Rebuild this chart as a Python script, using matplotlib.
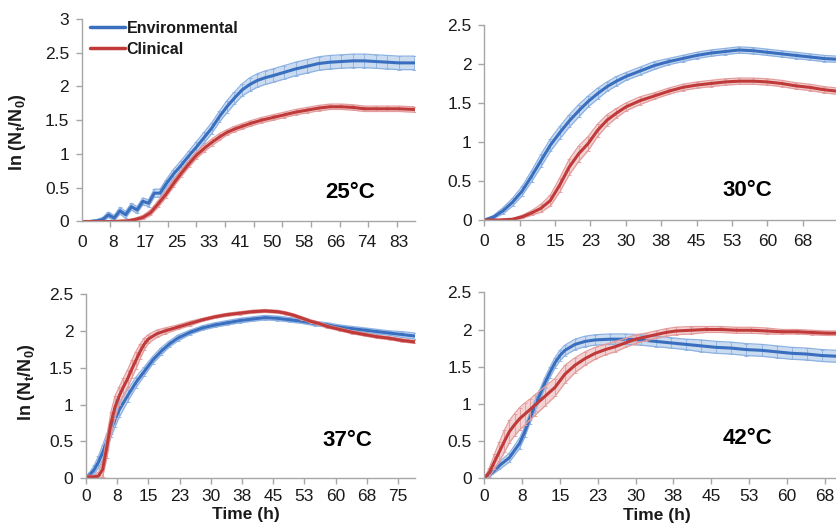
import numpy as np
import matplotlib
matplotlib.use("Agg")
import matplotlib.pyplot as plt

plt.rcParams['font.family'] = ['Liberation Sans', 'DejaVu Sans']
plt.rcParams['mathtext.fontset'] = 'custom'
plt.rcParams['mathtext.rm'] = 'Liberation Sans'
plt.rcParams['mathtext.bf'] = 'Liberation Sans:bold'

# ---- data: time (h), ln(Nt/N0), error ----
env25_t = [0, 2, 4, 5.5, 7, 8.5, 10, 11.5, 13, 14.5, 16, 17.5, 19, 20.5, 22, 24, 26, 28, 30, 32,
           34, 36, 38, 40, 42, 44, 46, 48, 50, 53, 56, 59, 62, 65, 68, 71, 74, 77, 80, 83, 87]
env25_v = [0, 0, 0.01, 0.03, 0.1, 0.05, 0.16, 0.1, 0.22, 0.17, 0.3, 0.27, 0.42, 0.42, 0.55, 0.7, 0.83, 0.97, 1.1, 1.24,
           1.38, 1.55, 1.7, 1.83, 1.95, 2.03, 2.09, 2.13, 2.16, 2.21, 2.26, 2.3, 2.34, 2.36, 2.37, 2.38, 2.38, 2.37, 2.36, 2.35, 2.35]
env25_e = [0.01, 0.01, 0.02, 0.03, 0.04, 0.04, 0.05, 0.05, 0.05, 0.05, 0.05, 0.05, 0.06, 0.06, 0.06, 0.07, 0.07, 0.07, 0.08, 0.08,
           0.08, 0.08, 0.09, 0.09, 0.09, 0.1, 0.1, 0.1, 0.1, 0.1, 0.1, 0.1, 0.1, 0.1, 0.1, 0.1, 0.1, 0.1, 0.1, 0.1, 0.1]

cli25_t = [0, 4, 8, 12, 14, 16, 18, 20, 22, 24, 26, 28, 30, 32, 34, 36, 38, 40, 42, 44,
           47, 50, 53, 56, 59, 62, 65, 68, 71, 74, 77, 80, 83, 87]
cli25_v = [0, 0, 0, 0.01, 0.03, 0.06, 0.13, 0.26, 0.4, 0.56, 0.71, 0.85, 0.98, 1.08, 1.17, 1.25, 1.32, 1.37, 1.41, 1.45,
           1.5, 1.54, 1.58, 1.62, 1.65, 1.68, 1.7, 1.7, 1.69, 1.67, 1.67, 1.67, 1.67, 1.66]
cli25_e = [0, 0, 0.01, 0.01, 0.02, 0.03, 0.04, 0.05, 0.05, 0.05, 0.05, 0.05, 0.05, 0.05, 0.05, 0.05, 0.04, 0.04, 0.04, 0.04,
           0.04, 0.04, 0.04, 0.04, 0.04, 0.04, 0.04, 0.04, 0.04, 0.04, 0.04, 0.04, 0.04, 0.04]

env30_t = [0, 2, 4, 6, 8, 10, 12, 14, 16, 18, 20, 22, 24, 26, 28, 30, 33, 36, 39, 42,
           45, 48, 51, 54, 57, 60, 63, 66, 69, 72, 75]
env30_v = [0, 0.04, 0.12, 0.23, 0.37, 0.56, 0.76, 0.96, 1.12, 1.27, 1.4, 1.52, 1.62, 1.71, 1.78, 1.84, 1.91, 1.98, 2.03, 2.07,
           2.11, 2.14, 2.16, 2.18, 2.17, 2.15, 2.13, 2.11, 2.09, 2.07, 2.06]
env30_e = [0, 0.02, 0.04, 0.05, 0.06, 0.07, 0.08, 0.08, 0.08, 0.08, 0.08, 0.07, 0.07, 0.06, 0.06, 0.05, 0.05, 0.05, 0.04, 0.04,
           0.04, 0.04, 0.04, 0.04, 0.04, 0.04, 0.04, 0.04, 0.04, 0.04, 0.04]

cli30_t = [0, 3, 6, 8, 10, 12, 14, 16, 18, 20, 22, 24, 26, 28, 30, 33, 36, 39, 42, 45,
           48, 51, 54, 57, 60, 63, 66, 69, 72, 75]
cli30_v = [0, 0, 0.01, 0.04, 0.09, 0.15, 0.25, 0.45, 0.68, 0.85, 0.98, 1.15, 1.28, 1.37, 1.45, 1.53, 1.59, 1.65, 1.7, 1.73,
           1.75, 1.77, 1.78, 1.78, 1.77, 1.75, 1.72, 1.7, 1.67, 1.65]
cli30_e = [0, 0, 0.01, 0.02, 0.03, 0.05, 0.07, 0.09, 0.1, 0.1, 0.09, 0.08, 0.07, 0.06, 0.05, 0.05, 0.04, 0.04, 0.04, 0.04,
           0.04, 0.04, 0.04, 0.04, 0.04, 0.04, 0.04, 0.04, 0.04, 0.04]

env37_t = [0, 1, 2, 3, 4, 5, 6, 7, 8, 10, 12, 14, 16, 18, 20, 22, 25, 28, 31, 34,
           37, 40, 43, 46, 49, 52, 55, 58, 61, 64, 67, 70, 73, 76, 79]
env37_v = [0.01, 0.05, 0.12, 0.22, 0.35, 0.5, 0.66, 0.8, 0.93, 1.12, 1.3, 1.45, 1.6, 1.72, 1.82, 1.9, 1.98, 2.04, 2.08, 2.11,
           2.14, 2.16, 2.18, 2.17, 2.15, 2.13, 2.1, 2.08, 2.05, 2.03, 2.01, 1.99, 1.97, 1.95, 1.93]
env37_e = [0.02, 0.04, 0.06, 0.08, 0.1, 0.1, 0.1, 0.1, 0.1, 0.08, 0.07, 0.06, 0.05, 0.05, 0.04, 0.04, 0.03, 0.03, 0.03, 0.03,
           0.03, 0.03, 0.03, 0.03, 0.03, 0.03, 0.03, 0.03, 0.03, 0.03, 0.03, 0.03, 0.03, 0.04, 0.04]

cli37_t = [0, 1, 2, 3, 4, 5, 6, 7, 8, 9, 10, 11, 12, 13, 14, 15, 17, 19, 22, 25,
           28, 31, 34, 37, 40, 43, 46, 48, 50, 52, 54, 56, 58, 61, 64, 67, 70, 73, 76, 79]
cli37_v = [0.02, 0.02, 0.02, 0.03, 0.12, 0.42, 0.75, 0.97, 1.12, 1.24, 1.35, 1.48, 1.6, 1.72, 1.82, 1.89, 1.96, 2.0, 2.05, 2.1,
           2.15, 2.19, 2.22, 2.24, 2.26, 2.27, 2.26, 2.24, 2.21, 2.17, 2.13, 2.1, 2.06, 2.02, 1.98, 1.95, 1.92, 1.9, 1.87, 1.85]
cli37_e = [0.02, 0.02, 0.02, 0.05, 0.1, 0.15, 0.15, 0.15, 0.12, 0.12, 0.12, 0.12, 0.12, 0.1, 0.08, 0.06, 0.05, 0.04, 0.03, 0.03,
           0.02, 0.02, 0.02, 0.02, 0.02, 0.02, 0.02, 0.02, 0.02, 0.02, 0.02, 0.02, 0.02, 0.02, 0.02, 0.02, 0.02, 0.02, 0.02, 0.02]

env42_t = [0, 1, 3, 5, 7, 8, 9, 10, 11, 12, 13, 14, 15, 16, 18, 20, 22, 25, 28, 31,
           34, 37, 40, 43, 46, 49, 52, 55, 58, 61, 64, 67, 70]
env42_v = [0, 0.04, 0.17, 0.28, 0.47, 0.62, 0.8, 0.97, 1.12, 1.28, 1.42, 1.55, 1.65, 1.72, 1.8, 1.84, 1.86, 1.87, 1.87, 1.86,
           1.84, 1.82, 1.8, 1.78, 1.76, 1.75, 1.73, 1.72, 1.7, 1.68, 1.67, 1.65, 1.64]
env42_e = [0, 0.02, 0.05, 0.06, 0.07, 0.07, 0.07, 0.07, 0.07, 0.07, 0.07, 0.07, 0.07, 0.07, 0.07, 0.07, 0.07, 0.07, 0.07, 0.07,
           0.07, 0.07, 0.07, 0.08, 0.08, 0.08, 0.08, 0.08, 0.08, 0.08, 0.08, 0.08, 0.08]

cli42_t = [0, 1, 2, 3, 4, 5, 6, 7, 8, 9, 10, 12, 14, 16, 18, 20, 22, 24, 26, 28,
           30, 32, 34, 36, 38, 41, 44, 47, 50, 53, 56, 59, 62, 65, 68, 70]
cli42_v = [0, 0.08, 0.22, 0.36, 0.5, 0.63, 0.72, 0.8, 0.86, 0.92, 0.98, 1.1, 1.22, 1.4, 1.52, 1.61, 1.68, 1.73, 1.77, 1.82,
           1.87, 1.9, 1.93, 1.96, 1.98, 1.99, 2.0, 2.0, 1.99, 1.99, 1.98, 1.97, 1.97, 1.96, 1.95, 1.95]
cli42_e = [0, 0.06, 0.1, 0.13, 0.15, 0.15, 0.15, 0.15, 0.15, 0.14, 0.14, 0.13, 0.12, 0.12, 0.1, 0.09, 0.08, 0.07, 0.07, 0.06,
           0.06, 0.05, 0.05, 0.05, 0.05, 0.05, 0.04, 0.04, 0.04, 0.04, 0.04, 0.03, 0.03, 0.03, 0.03, 0.03]

temps = ['25°C', '30°C', '37°C', '42°C']
xlabels_25 = ['0', '8', '17', '25', '33', '41', '50', '58', '66', '74', '83']
xlabels_other = ['0', '8', '15', '23', '30', '38', '45', '53', '60', '68', '75']
ylabels_3 = ['0', '0.5', '1', '1.5', '2', '2.5', '3']
ylabels_25 = ['0', '0.5', '1', '1.5', '2', '2.5']

BLUE = '#3A6FBF'
RED = '#C03A3A'
BLUE_L = '#8DB2E2'
RED_L = '#E49C9C'
AXC = '#A6A6A6'
TXT = '#1A1A1A'

W, H = 837, 528


def add_panel(fig, box, xmax, ymax):
    # box = (left, top, right, bottom) in pixels from top-left
    l, t, r, b = box
    ax = fig.add_axes([l / W, 1 - b / H, (r - l) / W, (b - t) / H])
    ax.set_xlim(0, xmax)
    ax.set_ylim(0, ymax)
    for s in ['top', 'right']:
        ax.spines[s].set_visible(False)
    for s in ['left', 'bottom']:
        ax.spines[s].set_color(AXC)
        ax.spines[s].set_linewidth(1.0)
    ax.tick_params(colors=AXC, labelcolor=TXT, labelsize=12.5, length=4, width=1.0, direction='out')
    ax.tick_params(axis='y', pad=5)
    ax.tick_params(axis='x', pad=6)
    return ax


def draw_series(ax, t, v, e, color, light, label):
    t = np.array(t)
    v = np.array(v)
    e = np.array(e)
    ax.fill_between(t, v - e, v + e, color=light, alpha=0.45, lw=0)
    ax.plot(t, v + e, color=light, lw=0.9)
    ax.plot(t, v - e, color=light, lw=0.9)
    ax.errorbar(t, v, yerr=e, fmt='none', ecolor=light, elinewidth=0.7, capsize=1.5, capthick=0.7, alpha=0.9)
    ax.plot(t, v, color=color, lw=2.2, label=label, solid_capstyle='round')


fig = plt.figure(figsize=(W / 100, H / 100), dpi=100)

boxes = [(81.7, 19, 415, 221.5), (484.3, 25, 837, 220), (86, 294, 415, 478.3), (484.3, 292.3, 837, 478.3)]
px_per_h = [3.82, 4.72, 4.16, 5.04]
ymaxes = [3, 2.5, 2.5, 2.5]
series = [(env25_t, env25_v, env25_e, cli25_t, cli25_v, cli25_e),
          (env30_t, env30_v, env30_e, cli30_t, cli30_v, cli30_e),
          (env37_t, env37_v, env37_e, cli37_t, cli37_v, cli37_e),
          (env42_t, env42_v, env42_e, cli42_t, cli42_v, cli42_e)]
temp_pos = [(350, 192), (747, 190), (347, 440), (748, 438)]

axes = []
for i in range(4):
    l, t, r, b = boxes[i]
    xmax = (r - l) / px_per_h[i]
    ax = add_panel(fig, boxes[i], xmax, ymaxes[i])
    et, ev, ee, ct, cv, ce = series[i]
    draw_series(ax, et, ev, ee, BLUE, BLUE_L, 'Environmental')
    draw_series(ax, ct, cv, ce, RED, RED_L, 'Clinical')

    ylab = ylabels_3 if ymaxes[i] == 3 else ylabels_25
    ax.set_yticks(np.arange(len(ylab)) * 0.5)
    ax.set_yticklabels(ylab)

    if i == 0:
        # label positions and tick marks do not coincide on this axis
        ax.set_xticks(np.arange(len(xlabels_25)) * 8.3)
        ax.set_xticklabels(xlabels_25)
        ax.tick_params(axis='x', which='major', length=0, pad=10)
        ax.set_xticks(np.arange(0, xmax, 7.5), minor=True)
        ax.tick_params(axis='x', which='minor', length=4, width=1.0, colors=AXC)
    else:
        pos = np.arange(len(xlabels_other)) * 7.5
        keep = pos <= xmax
        ax.set_xticks(pos[keep])
        ax.set_xticklabels([lab for lab, k in zip(xlabels_other, keep) if k])
        if i >= 2:
            ax.tick_params(axis='x', pad=4)

    px, py = temp_pos[i]
    fig.text(px / W, 1 - py / H, temps[i], fontsize=16, fontweight='bold', color='black',
             ha='center', va='center')
    axes.append(ax)

ylabel = r'ln (N$_{\mathbf{t}}$/N$_{\mathbf{0}}$)'
axes[0].set_ylabel(ylabel, fontsize=13, fontweight='bold', color=TXT)
axes[0].yaxis.set_label_coords(-0.16, 0.44)
axes[2].set_ylabel(ylabel, fontsize=13, fontweight='bold', color=TXT)
axes[2].yaxis.set_label_coords(-0.15, 0.52)
axes[2].set_xlabel('Time (h)', fontsize=12.5, fontweight='bold', color=TXT)
axes[2].xaxis.set_label_coords(0.485, -0.157)
axes[3].set_xlabel('Time (h)', fontsize=12.5, fontweight='bold', color=TXT)
axes[3].xaxis.set_label_coords(0.488, -0.157)

leg = axes[0].legend(loc='upper left', bbox_to_anchor=(0.025, 0.99), frameon=False,
                     prop={'weight': 'bold', 'size': 11.5}, handlelength=2.2, handletextpad=0.1,
                     labelspacing=0.35, borderpad=0, borderaxespad=0)
for txt in leg.get_texts():
    txt.set_color(TXT)
for h in leg.get_lines():
    h.set_linewidth(2.5)

fig.savefig('out.png', dpi=100)
